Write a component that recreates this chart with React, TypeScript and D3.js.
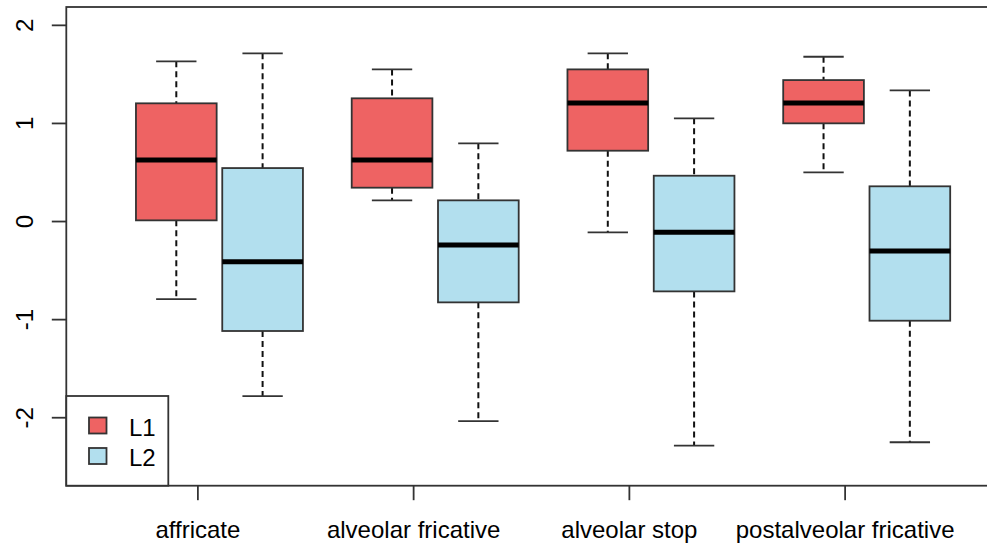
import React from 'react';
import * as d3 from 'd3';

// categories along the x axis
const categories = ['affricate', 'alveolar fricative', 'alveolar stop', 'postalveolar fricative'];
const groups = ['L1', 'L2'];
const fills = ['#EE6363', '#B2DFEE'];

// [lower whisker, Q1, median, Q3, upper whisker] per category
const l1Stats = [
  [-0.79, 0.012, 0.627, 1.205, 1.633],
  [0.216, 0.345, 0.627, 1.256, 1.551],
  [-0.11, 0.722, 1.208, 1.551, 1.715],
  [0.502, 1.001, 1.208, 1.442, 1.68],
];
const l2Stats = [
  [-1.779, -1.116, -0.41, 0.545, 1.715],
  [-2.034, -0.824, -0.24, 0.216, 0.797],
  [-2.285, -0.712, -0.11, 0.467, 1.052],
  [-2.25, -1.011, -0.3, 0.359, 1.337],
];
const yTicks = [-2, -1, 0, 1, 2];

const W = 987;
const H = 546;
const left = 66.3;
const right = 995;
const top = 7;
const bottom = 485.7;
const ink = '#333';
const font = '"Liberation Sans", Arial, sans-serif';

export default function App() {
  const y = d3.scaleLinear().domain([-2.693, 2.187]).range([bottom, top]);
  // box positions in R units: group i -> 1 + 2.5i (L1), 2 + 2.5i (L2)
  const x = d3.scaleLinear().domain([1, 2]).range([176.3, 262.6]);
  const unit = x(2) - x(1);
  const boxW = 0.935 * unit;
  const capW = boxW / 2;

  const boxes = categories.flatMap((c, i) =>
    [l1Stats[i], l2Stats[i]].map((s, g) => ({
      key: `${c}-${g}`,
      cx: x(1 + 2.5 * i + g),
      s,
      fill: fills[g],
    }))
  );

  return (
    <svg width={W} height={H} style={{ position: 'absolute', left: 0, top: 0, background: '#fff' }}
      fontFamily={font}>
      <rect x={0} y={0} width={W} height={H} fill="#fff" />
      {boxes.map(({ key, cx, s, fill }) => {
        const [lo, q1, med, q3, hi] = s;
        return (
          <g key={key}>
            <line x1={cx} x2={cx} y1={y(hi)} y2={y(q3)} stroke="#111" strokeWidth={2} strokeDasharray="6,4" />
            <line x1={cx} x2={cx} y1={y(q1)} y2={y(lo)} stroke="#111" strokeWidth={2} strokeDasharray="6,4" />
            <line x1={cx - capW / 2} x2={cx + capW / 2} y1={y(hi)} y2={y(hi)} stroke={ink} strokeWidth={1.8} />
            <line x1={cx - capW / 2} x2={cx + capW / 2} y1={y(lo)} y2={y(lo)} stroke={ink} strokeWidth={1.8} />
            <rect x={cx - boxW / 2} y={y(q3)} width={boxW} height={y(q1) - y(q3)}
              fill={fill} stroke={ink} strokeWidth={1.8} />
            <line x1={cx - boxW / 2} x2={cx + boxW / 2} y1={y(med)} y2={y(med)} stroke="#000" strokeWidth={5} />
          </g>
        );
      })}

      {/* plot frame */}
      <rect x={left} y={top} width={right - left} height={bottom - top} fill="none" stroke={ink} strokeWidth={1.8} />

      {/* y axis */}
      {yTicks.map((t) => (
        <g key={t}>
          <line x1={left - 14.5} x2={left} y1={y(t)} y2={y(t)} stroke={ink} strokeWidth={1.8} />
          <text transform={`translate(32.5,${y(t)}) rotate(-90)`} textAnchor="middle" fontSize={24} fill="#000">
            {t < 0 ? `-${Math.abs(t)}` : t}
          </text>
        </g>
      ))}

      {/* x axis */}
      {categories.map((c, i) => {
        const tx = x(1.25 + 2.5 * i);
        return (
          <g key={c}>
            <line x1={tx} x2={tx} y1={bottom} y2={bottom + 14.5} stroke={ink} strokeWidth={1.8} />
            <text x={tx} y={538} textAnchor="middle" fontSize={24} fill="#000">{c}</text>
          </g>
        );
      })}

      {/* legend */}
      <rect x={left} y={396} width={168.3 - left} height={bottom - 396} fill="#fff" stroke={ink} strokeWidth={1.8} />
      {groups.map((g, i) => (
        <g key={g}>
          <rect x={89} y={417.5 + i * 30.5} width={17.5} height={16} fill={fills[i]} stroke={ink} strokeWidth={1.8} />
          <text x={129} y={433.5 + i * 30.5 + 2} fontSize={24} fill="#000">{g}</text>
        </g>
      ))}
    </svg>
  );
}
